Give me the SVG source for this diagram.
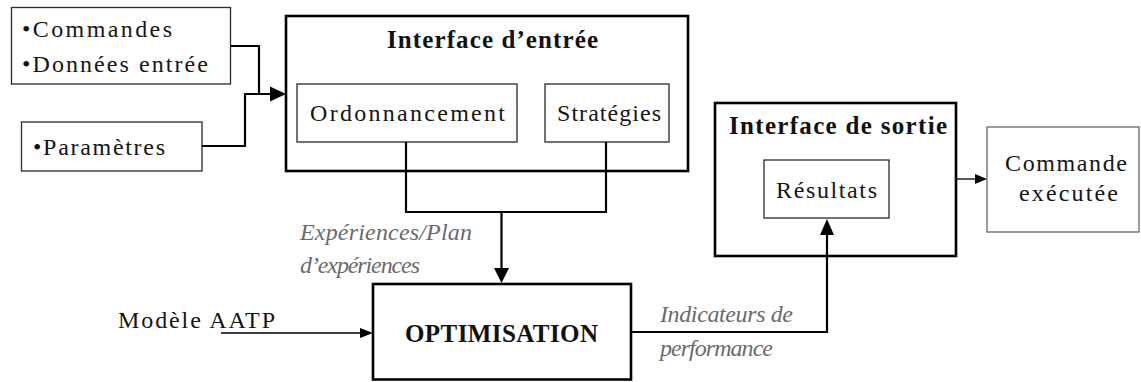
<svg xmlns="http://www.w3.org/2000/svg" width="1141" height="382" viewBox="0 0 1141 382">
  <defs>
    <style>
      .t { font-family: "Liberation Serif", "DejaVu Serif", serif; font-size: 24px; font-weight: normal; font-style: normal; fill: #151515; }
      .b { font-family: "Liberation Serif", "DejaVu Serif", serif; font-size: 25px; font-weight: bold; fill: #111; }
      .i { font-family: "Liberation Serif", "DejaVu Serif", serif; font-size: 24px; font-style: italic; fill: #6a6a6a; }
      .thin { fill: #fff; stroke: #2a2a2a; stroke-width: 1.3; }
      .thick { fill: #fff; stroke: #000; stroke-width: 2.6; }
      .gray { fill: #fff; stroke: #666; stroke-width: 1.3; }
      .c2 { fill: none; stroke: #000; stroke-width: 2.2; }
      .c1 { fill: none; stroke: #000; stroke-width: 1.3; }
      .ah { fill: #000; }
    </style>
  </defs>

  <g id="commandes">
    <rect class="thin" x="11.5" y="7.5" width="219" height="76.5"/>
    <text class="t" x="22" y="37" textLength="150" lengthAdjust="spacing">•Commandes</text>
    <text class="t" x="22" y="72" textLength="186" lengthAdjust="spacing">•Données entrée</text>
  </g>

  <g id="parametres">
    <rect class="thin" x="21.5" y="122" width="180.5" height="49"/>
    <text class="t" x="33" y="155" textLength="132" lengthAdjust="spacing">•Paramètres</text>
  </g>

  <g id="interface-entree">
    <rect class="thick" x="286" y="16" width="402" height="155"/>
    <text class="b" x="387" y="48" textLength="211" lengthAdjust="spacing">Interface d’entrée</text>
  </g>

  <g id="ordonnancement">
    <rect class="thin" x="297" y="84" width="220" height="58"/>
    <text class="t" x="310" y="121" textLength="195" lengthAdjust="spacing">Ordonnancement</text>
  </g>

  <g id="strategies">
    <rect class="thin" x="545" y="84" width="124" height="58"/>
    <text class="t" x="557" y="121" textLength="104" lengthAdjust="spacing">Stratégies</text>
  </g>

  <g id="optimisation">
    <rect class="thick" x="373" y="284" width="258" height="95.5"/>
    <text class="b" x="405" y="342" textLength="193" lengthAdjust="spacing">OPTIMISATION</text>
  </g>

  <g id="interface-sortie">
    <rect class="thick" x="715" y="103" width="241" height="153"/>
    <text class="b" x="729" y="134" textLength="218" lengthAdjust="spacing">Interface de sortie</text>
  </g>

  <g id="resultats">
    <rect class="thin" x="764" y="160" width="125" height="58"/>
    <text class="t" x="776" y="198" textLength="101" lengthAdjust="spacing">Résultats</text>
  </g>

  <g id="commande-executee">
    <rect class="gray" x="987" y="127" width="152" height="105"/>
    <text class="t" x="1005" y="171" textLength="122" lengthAdjust="spacing">Commande</text>
    <text class="t" x="1019" y="201" textLength="99" lengthAdjust="spacing">exécutée</text>
  </g>

  <g id="modele-aatp">
    <text class="t" x="118" y="328" textLength="157" lengthAdjust="spacing">Modèle AATP</text>
  </g>

  <g id="connectors">
    <path class="c2" d="M231,46 H259 V94 H272"/>
    <path class="c2" d="M202,146 H245 V94 H259"/>
    <polygon class="ah" points="270,86.5 286,94 270,101.5"/>

    <path class="c2" d="M406,142 V212 H606 V142"/>
    <path class="c2" d="M501.5,212 V269"/>
    <polygon class="ah" points="494,268 509,268 501.5,283"/>

    <path class="c1" d="M221,333 H361"/>
    <polygon class="ah" points="360,328 373,333 360,338"/>

    <path class="c2" d="M631,332 H827 V234"/>
    <polygon class="ah" points="820,235 834,235 827,219"/>

    <path class="c1" d="M956,179 H976"/>
    <polygon class="ah" points="975,174 987,179 975,184"/>

    <text class="i" x="300" y="240" textLength="172" lengthAdjust="spacing">Expériences/Plan</text>
    <text class="i" x="300" y="273" textLength="120" lengthAdjust="spacing">d’expériences</text>
    <text class="i" x="660" y="322" textLength="133" lengthAdjust="spacing">Indicateurs de</text>
    <text class="i" x="660" y="356" textLength="113" lengthAdjust="spacing">performance</text>
  </g>
</svg>
